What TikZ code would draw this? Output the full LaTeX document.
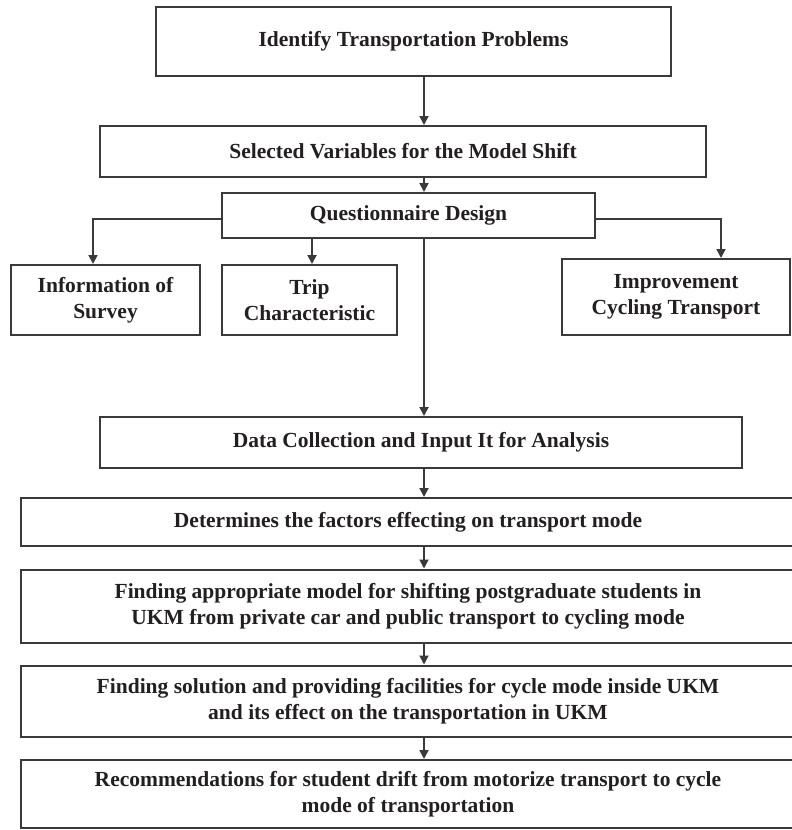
\documentclass[tikz,border=0pt]{standalone}
\usepackage{fontspec}
\setmainfont{Liberation Serif}
\usetikzlibrary{arrows.meta}
\definecolor{ink}{HTML}{231F20}
\definecolor{edge}{HTML}{3A3A3A}
\tikzset{
  box/.style={draw=edge, line width=2pt, fill=white, inner sep=0pt, align=center,
    text=ink, font=\fontsize{21.5}{26}\selectfont\bfseries},
  arr/.style={draw=edge, line width=1.8pt, -{Triangle[width=9pt,length=9pt]}},
}
\begin{document}
\begin{tikzpicture}[x=1pt,y=-1pt]
\useasboundingbox (0,0) rectangle (792,830);
\clip (0,0) rectangle (792,830);
\fill[white] (0,0) rectangle (792,830);
\coordinate (ax) at (424,0);
\coordinate (lx) at (93,0);
\coordinate (tx) at (312,0);
\coordinate (rx) at (721,0);
\coordinate (hy) at (0,219);
% boxes
\node[box, minimum width=515, minimum height=69] (b1) at (413.5,41.5) {Identify Transportation Problems};
\node[box, minimum width=606, minimum height=51] (b2) at (403,151.5) {Selected Variables for the Model Shift};
\node[box, minimum width=373, minimum height=45] (b3) at (408.5,215.5) {Questionnaire Design};
\node[box, minimum width=189, minimum height=70] (info) at (105.5,300) {Information of\\Survey};
\node[box, minimum width=175, minimum height=70] (trip) at (309.5,300) {Trip\\Characteristic};
\node[box, minimum width=228, minimum height=76] (imp) at (676,297) {Improvement\\Cycling Transport};
\node[box, minimum width=642, minimum height=51] (data) at (421,442.5) {Data Collection and Input It for Analysis};
\node[box, minimum width=774, minimum height=48] (det) at (408,522) {Determines the factors effecting on transport mode};
\node[box, minimum width=774, minimum height=73] (find) at (408,606) {Finding appropriate model for shifting postgraduate students in\\UKM from private car and public transport to cycling mode};
\node[box, minimum width=774, minimum height=71] (sol) at (408,701) {Finding solution and providing facilities for cycle mode inside UKM\\and its effect on the transportation in UKM};
\node[box, minimum width=774, minimum height=68] (rec) at (408,794) {Recommendations for student drift from motorize transport to cycle\\mode of transportation};
% connectors
\draw[arr] (b1.south -| ax) -- (b2.north -| ax);
\draw[arr] (b2.south -| ax) -- (b3.north -| ax);
\draw[arr] (b3.west |- hy) -| (info.north -| lx);
\draw[arr] (b3.south -| tx) -- (trip.north -| tx);
\draw[arr] (b3.east |- hy) -| (imp.north -| rx);
\draw[arr] (b3.south -| ax) -- (data.north -| ax);
\draw[arr] (data.south -| ax) -- (det.north -| ax);
\draw[arr] (det.south -| ax) -- (find.north -| ax);
\draw[arr] (find.south -| ax) -- (sol.north -| ax);
\draw[arr] (sol.south -| ax) -- (rec.north -| ax);
\end{tikzpicture}
\end{document}
